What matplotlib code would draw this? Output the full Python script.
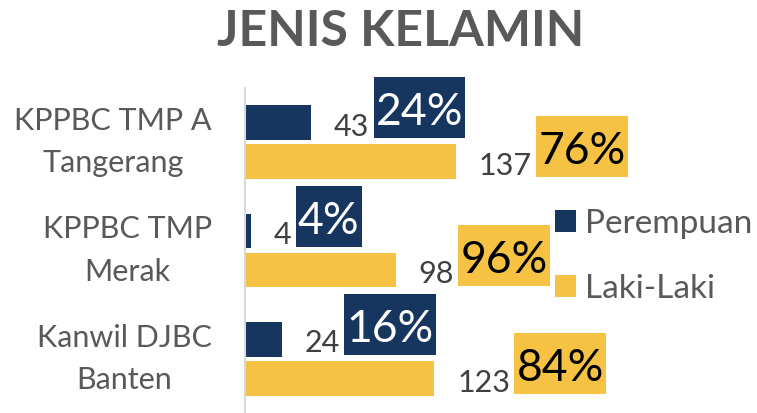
import matplotlib
matplotlib.use("Agg")
import matplotlib.pyplot as plt
from matplotlib.path import Path
import numpy as np

categories = ["KPPBC TMP A\nTangerang", "KPPBC TMP\nMerak", "Kanwil DJBC\nBanten"]
perempuan = [43, 4, 24]
laki_laki = [137, 98, 123]
series_names = ["Perempuan", "Laki-Laki"]
title = "JENIS KELAMIN"

NAVY = "#17365F"
YELLOW = "#F5C243"
GRAY = "#595959"

plt.rcParams['font.family'] = ['Lato', 'DejaVu Sans']

fig = plt.figure(figsize=(7.57, 4.13), dpi=100)
ax = fig.add_axes([245/757, 0.0, 308/757, 325/413])

y = np.arange(len(categories))
h = 0.32
off = 0.18
b1 = ax.barh(y - off, perempuan, height=h, color=NAVY, label=series_names[0])
b2 = ax.barh(y + off, laki_laki, height=h, color=YELLOW, label=series_names[1])

ax.set_xlim(0, 200)
ax.set_ylim(2.5, -0.5)
ax.set_yticks(y)
ax.set_yticklabels(categories, fontsize=22, color=GRAY, va='center',
                   multialignment='center', linespacing=1.62)
ax.tick_params(axis='y', length=0, pad=24)
ax.set_xticks([])
for s in ['top', 'right', 'bottom']:
    ax.spines[s].set_visible(False)
ax.spines['left'].set_color('#D9D9D9')
ax.spines['left'].set_linewidth(1.5)

totals = [p + l for p, l in zip(perempuan, laki_laki)]


def pct_box(x0, y0, width, height, mutation_size):
    px = 0.05 * mutation_size
    pt = 0.34 * mutation_size
    pb = 0.11 * mutation_size
    x1, x2 = x0 - px, x0 + width + px
    y1, y2 = y0 - pb, y0 + height + pt
    return Path([(x1, y1), (x2, y1), (x2, y2), (x1, y2), (x1, y1)], closed=True)


def label(val, ycenter, pct, boxcolor, txtcolor):
    ybot = ycenter + h / 2
    num = ax.annotate(str(val), xy=(val, ybot), xytext=(16.5, 3),
                      textcoords='offset points', ha='left', va='baseline',
                      fontsize=22, color='#404040', annotation_clip=False)
    ax.annotate(f"{pct}%", xy=(1.0, ybot), xycoords=(num, ax.transData),
                xytext=(4.5, 10.5), textcoords='offset points', ha='left', va='baseline',
                fontsize=32, color=txtcolor, annotation_clip=False,
                bbox=dict(boxstyle=pct_box, fc=boxcolor, ec='none'))

for i in range(len(categories)):
    pp = round(100 * perempuan[i] / totals[i])
    pl = round(100 * laki_laki[i] / totals[i])
    label(perempuan[i], y[i] - off, pp, NAVY, 'white')
    label(laki_laki[i], y[i] + off, pl, YELLOW, 'black')

leg = fig.legend(handles=[b1, b2], labels=series_names, loc='upper left',
                 bbox_to_anchor=(555/757, 1 - 209/413), frameon=False,
                 fontsize=24, labelcolor=GRAY, handlelength=0.62, handleheight=0.62,
                 handletextpad=0.28, labelspacing=1.05, borderpad=0, borderaxespad=0)

fig.text(401/757, 1 - 9/413, title, ha='center', va='top', fontsize=36,
         fontweight='bold', color=GRAY)

fig.savefig("out.png", dpi=100)
